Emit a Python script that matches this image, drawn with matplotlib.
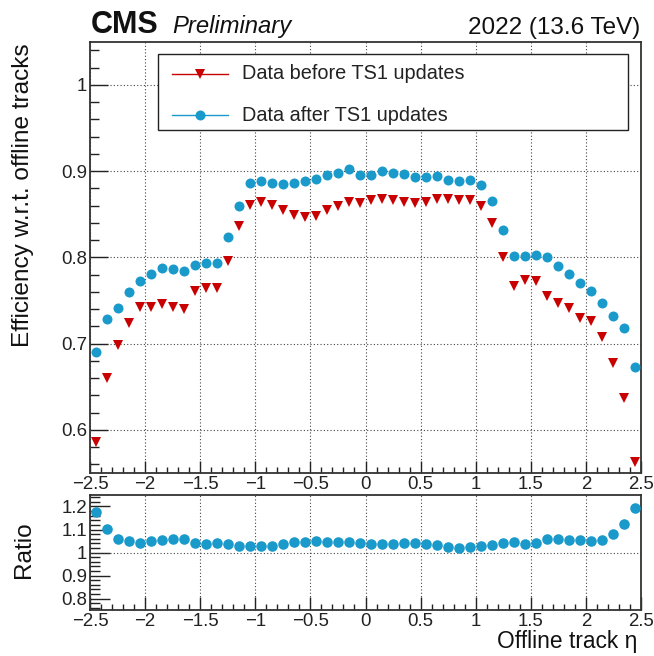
import numpy as np
import matplotlib
matplotlib.use("Agg")
import matplotlib.pyplot as plt
from matplotlib.ticker import MultipleLocator, FuncFormatter
from matplotlib.lines import Line2D
from matplotlib.patches import Rectangle

# Offline track eta binning: 50 bins of width 0.1 from -2.5 to 2.5
eta_edges = np.linspace(-2.5, 2.5, 51)
eta = 0.5 * (eta_edges[:-1] + eta_edges[1:])

eff_before = [
    0.586, 0.660, 0.698, 0.724, 0.742, 0.742, 0.746, 0.742, 0.740, 0.761,
    0.765, 0.764, 0.796, 0.836, 0.861, 0.864, 0.861, 0.855, 0.849, 0.847,
    0.848, 0.855, 0.859, 0.864, 0.863, 0.866, 0.868, 0.866, 0.864, 0.863,
    0.864, 0.868, 0.868, 0.867, 0.867, 0.859, 0.840, 0.800, 0.767, 0.774,
    0.773, 0.755, 0.747, 0.741, 0.730, 0.726, 0.708, 0.678, 0.637, 0.563,
]
eff_after = [
    0.690, 0.729, 0.741, 0.760, 0.773, 0.781, 0.788, 0.786, 0.784, 0.791,
    0.793, 0.794, 0.824, 0.859, 0.886, 0.889, 0.886, 0.885, 0.886, 0.888,
    0.891, 0.895, 0.898, 0.903, 0.896, 0.896, 0.900, 0.898, 0.897, 0.893,
    0.893, 0.894, 0.890, 0.888, 0.890, 0.884, 0.865, 0.832, 0.801, 0.801,
    0.803, 0.800, 0.790, 0.781, 0.770, 0.761, 0.747, 0.732, 0.718, 0.673,
]
ratio = [
    1.175, 1.103, 1.060, 1.049, 1.041, 1.051, 1.054, 1.059, 1.059, 1.040,
    1.036, 1.040, 1.037, 1.029, 1.029, 1.027, 1.029, 1.036, 1.044, 1.047,
    1.050, 1.047, 1.046, 1.045, 1.042, 1.037, 1.039, 1.039, 1.040, 1.040,
    1.036, 1.031, 1.024, 1.021, 1.024, 1.027, 1.031, 1.040, 1.046, 1.037,
    1.043, 1.060, 1.060, 1.053, 1.054, 1.049, 1.054, 1.080, 1.126, 1.194,
]

labels = ["Data before TS1 updates", "Data after TS1 updates"]
RED = "#c80000"
BLUE = "#1a9acb"

plt.rcParams["font.family"] = ["Liberation Sans", "DejaVu Sans"]

W, H = 654, 656
fig = plt.figure(figsize=(W / 100, H / 100), dpi=100)

def fx(px):
    return px / W

def fy(py):
    return 1 - py / H

left, right = 90, 641
ax = fig.add_axes([fx(left), fy(473), fx(right - left), fy(41.7) - fy(473)])
axr = fig.add_axes([fx(left), fy(610), fx(right - left), fy(495) - fy(610)])

fmt = FuncFormatter(lambda v, p: ("%g" % round(v, 3)).replace("-", "\u2212"))
grid_kw = dict(color="#444444", linestyle=(0, (1, 2)), linewidth=0.8)

for a in (ax, axr):
    a.set_xlim(-2.5, 2.5)
    a.xaxis.set_major_locator(MultipleLocator(0.5))
    a.xaxis.set_minor_locator(MultipleLocator(0.1))
    a.xaxis.set_major_formatter(fmt)
    a.yaxis.set_major_formatter(fmt)
    a.tick_params(which="both", direction="in", top=False, right=False,
                  labelsize=13.4, colors="#222222", width=1.0)
    a.tick_params(axis="x", pad=2.5)
    a.tick_params(axis="y", pad=2)
    for s in a.spines.values():
        s.set_linewidth(1.3)
        s.set_color("#333333")
    a.grid(True, axis="x", which="major", **grid_kw)
    a.set_axisbelow(True)

# Efficiency panel
ax.set_ylim(0.55, 1.05)
ax.yaxis.set_major_locator(MultipleLocator(0.1))
ax.yaxis.set_minor_locator(MultipleLocator(0.02))
ax.tick_params(axis="y", which="major", length=13)
ax.tick_params(axis="y", which="minor", length=6.5)
ax.tick_params(axis="x", which="major", length=8.6)
ax.tick_params(axis="x", which="minor", length=4.3)
ax.grid(True, axis="y", which="major", **grid_kw)

ax.plot(eta, eff_before, linestyle="none", marker="v", markersize=7.4,
        color=RED, markeredgewidth=0, zorder=3)
ax.plot(eta, eff_after, linestyle="none", marker="o", markersize=7.2,
        color=BLUE, markeredgewidth=0, zorder=3)

# Legend box
lx0, lx1, ly0, ly1 = 158, 628, 54, 130
def ax_xy(px, py):
    return ((px - left) / (right - left), (473 - py) / (473 - 41.7))
bx0, by1 = ax_xy(lx0, ly1)
bx1, by0 = ax_xy(lx1, ly0)
ax.add_patch(Rectangle((bx0, by1), bx1 - bx0, by0 - by1, transform=ax.transAxes,
                       facecolor="white", edgecolor="#222222", linewidth=1.0,
                       zorder=5))
for (row_y, lab, col, mk) in [(73.5, labels[0], RED, "v"), (115, labels[1], BLUE, "o")]:
    x0, yy = ax_xy(172, row_y)
    x1, _ = ax_xy(228, row_y)
    xm, _ = ax_xy(200, row_y)
    ax.add_line(Line2D([x0, x1], [yy, yy], transform=ax.transAxes, color=col,
                       linewidth=1.0, zorder=6))
    ax.add_line(Line2D([xm], [yy], transform=ax.transAxes, color=col, marker=mk,
                       markersize=7.2, markeredgewidth=0, zorder=7))
    xt, _ = ax_xy(242, row_y)
    ax.text(xt, yy, lab, transform=ax.transAxes, fontsize=14.3, va="center",
            ha="left", color="#222222", zorder=7)

# Ratio panel
axr.set_ylim(0.75, 1.25)
axr.yaxis.set_major_locator(MultipleLocator(0.1))
axr.yaxis.set_minor_locator(MultipleLocator(0.02))
axr.tick_params(axis="y", which="major", length=14.4)
axr.tick_params(axis="y", which="minor", length=7.2)
axr.tick_params(axis="x", which="major", length=9.4)
axr.tick_params(axis="x", which="minor", length=4.0)
axr.axhline(1.0, zorder=1, **grid_kw)
axr.plot(eta, ratio, linestyle="none", marker="o", markersize=7.6,
         color=BLUE, markeredgewidth=0, zorder=3, clip_on=False)

# Titles and axis labels
fig.text(fx(91), fy(33), "CMS", fontsize=22, fontweight="bold",
         va="baseline", ha="left", color="#111111")
fig.text(fx(172), fy(33), "Preliminary", fontsize=17.2, fontstyle="italic",
         va="baseline", ha="left", color="#111111")
fig.text(fx(640.5), fy(34), "2022 (13.6 TeV)", fontsize=17.5,
         va="baseline", ha="right", color="#111111")
fig.text(fx(23), fy(43), "Efficiency w.r.t. offline tracks", fontsize=17.6,
         rotation=90, va="top", ha="center", color="#111111")
fig.text(fx(24), fy(550), "Ratio", fontsize=17.6, rotation=90,
         va="center", ha="center", color="#111111")
fig.text(fx(637), fy(648), "Offline track \u03b7", fontsize=16.4,
         va="baseline", ha="right", color="#111111")

fig.savefig("out.png", dpi=100, facecolor="white")
